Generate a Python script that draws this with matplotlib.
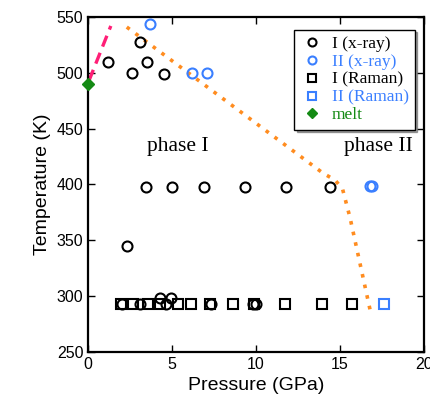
import matplotlib.pyplot as plt

# phase I, x-ray (black open circles)
xray1_p = [1.2, 2.6, 3.1, 3.5, 4.5,
           2.3,
           3.45, 5.0, 6.9, 9.35, 11.8, 14.4,
           2.0, 3.1, 4.65, 7.3, 9.8, 10.0, 4.3, 4.95]
xray1_t = [510, 500, 528, 510, 499,
           345,
           398, 398, 398, 398, 398, 398,
           293, 293, 293, 293, 293, 293, 298, 298]

# phase II, x-ray (blue open circles)
xray2_p = [3.7, 6.2, 7.1, 16.8, 16.9]
xray2_t = [544, 500, 500, 399, 399]

# phase I, Raman (black squares)
raman1_p = [1.95, 2.7, 3.55, 4.3, 5.35, 6.1, 7.25, 8.6, 9.85, 11.7, 13.9, 15.7]
raman1_t = [293] * len(raman1_p)

# phase II, Raman (blue square)
raman2_p = [17.6]
raman2_t = [293]

# melting point
melt_p = [0.0]
melt_t = [490]

# boundaries
melt_line_p = [0.05, 1.35]
melt_line_t = [493, 542]
bound_p = [2.3, 14.0, 14.7, 15.15, 15.6, 16.8]
bound_t = [541, 410, 404, 396, 370, 287]

blue = '#3a7fff'
green = '#148a14'
orange = '#ff8c1f'
pink = '#ff1f77'

fig = plt.figure(figsize=(4.3, 4.05), dpi=100)
ax = fig.add_axes([0.205, 0.131, 0.781, 0.827])

ax.plot(melt_line_p, melt_line_t, color=pink, lw=2.4, ls=(0, (3.5, 2)), zorder=2)
ax.plot(bound_p, bound_t, color=orange, lw=2.6, ls=(0, (1, 2)), zorder=2)

mk = dict(ls='none', mfc='none', mew=1.5, ms=7.2)
ax.plot(xray1_p, xray1_t, marker='o', mec='black', label='I (x-ray)', **mk)
ax.plot(xray2_p, xray2_t, marker='o', mec=blue, label='II (x-ray)', **mk)
ax.plot(raman1_p, raman1_t, marker='s', mec='black', label='I (Raman)', **mk)
ax.plot(raman2_p, raman2_t, marker='s', mec=blue, label='II (Raman)', **mk)
ax.plot(melt_p, melt_t, marker='D', color=green, ls='none', ms=6.5,
        label='melt', clip_on=False, zorder=5)

ax.text(5.35, 434, 'phase I', family='Liberation Serif', fontsize=15.5,
        ha='center', va='center')
ax.text(17.3, 434, 'phase II', family='Liberation Serif', fontsize=15.5,
        ha='center', va='center')

ax.set_xlim(0, 20)
ax.set_ylim(250, 550)
ax.set_xticks([0, 5, 10, 15, 20])
ax.set_yticks([250, 300, 350, 400, 450, 500, 550])
ax.tick_params(direction='in', top=True, right=True, length=5, width=1,
               labelsize=11.5)
for lab in ax.get_xticklabels() + ax.get_yticklabels():
    lab.set_family('Liberation Sans')
for s in ax.spines.values():
    s.set_linewidth(1.6)

ax.set_xlabel('Pressure (GPa)', family='Liberation Sans', fontsize=14)
ax.set_ylabel('Temperature (K)', family='Liberation Sans', fontsize=14)

leg = ax.legend(loc='upper right', prop={'family': 'Liberation Serif', 'size': 12.5},
                fancybox=False, shadow=True, framealpha=1, edgecolor='black',
                handletextpad=0.5, borderpad=0.35, labelspacing=0.1,
                handlelength=1.3, markerscale=0.8,
                bbox_to_anchor=(0.998, 0.988))
leg.get_frame().set_linewidth(1.0)
for txt, c in zip(leg.get_texts(), ['black', blue, 'black', blue, green]):
    txt.set_color(c)

fig.savefig('out.png', dpi=100)
